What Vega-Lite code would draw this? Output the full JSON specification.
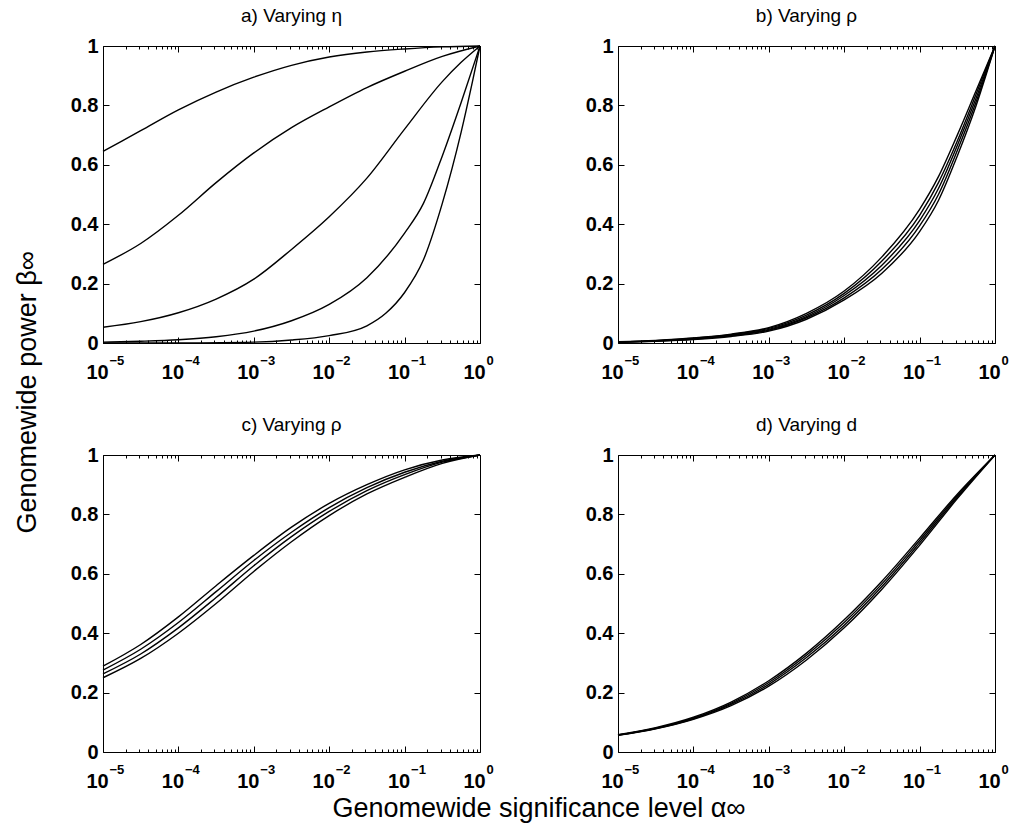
{
"$schema": "https://vega.github.io/schema/vega-lite/v6.json",
"background": "white",
"padding": {"left": 13, "top": 6, "right": 2, "bottom": 2},
"title": {"text": "Genomewide power β∞", "orient": "left", "anchor": "middle", "frame": "bounds", "fontSize": 27, "fontWeight": "normal", "font": "Liberation Sans", "offset": 28, "dx": 22, "color": "black"},
"data": {"values": [
{"p":"a","s":1,"x":1e-5,"y":0.645},{"p":"a","s":1,"x":3.16228e-5,"y":0.715},{"p":"a","s":1,"x":1e-4,"y":0.785},{"p":"a","s":1,"x":3.16228e-4,"y":0.845},{"p":"a","s":1,"x":1e-3,"y":0.895},{"p":"a","s":1,"x":3.16228e-3,"y":0.935},{"p":"a","s":1,"x":0.01,"y":0.963},{"p":"a","s":1,"x":0.0316228,"y":0.98},{"p":"a","s":1,"x":0.1,"y":0.99},{"p":"a","s":1,"x":0.316228,"y":0.997},{"p":"a","s":1,"x":1,"y":1},
{"p":"a","s":2,"x":1e-5,"y":0.265},{"p":"a","s":2,"x":3.16228e-5,"y":0.335},{"p":"a","s":2,"x":1e-4,"y":0.43},{"p":"a","s":2,"x":3.16228e-4,"y":0.54},{"p":"a","s":2,"x":1e-3,"y":0.64},{"p":"a","s":2,"x":3.16228e-3,"y":0.725},{"p":"a","s":2,"x":0.01,"y":0.795},{"p":"a","s":2,"x":0.0316228,"y":0.86},{"p":"a","s":2,"x":0.1,"y":0.915},{"p":"a","s":2,"x":0.316228,"y":0.965},{"p":"a","s":2,"x":1,"y":1},
{"p":"a","s":3,"x":1e-5,"y":0.053},{"p":"a","s":3,"x":3.16228e-5,"y":0.072},{"p":"a","s":3,"x":1e-4,"y":0.102},{"p":"a","s":3,"x":3.16228e-4,"y":0.148},{"p":"a","s":3,"x":1e-3,"y":0.215},{"p":"a","s":3,"x":3.16228e-3,"y":0.315},{"p":"a","s":3,"x":0.01,"y":0.425},{"p":"a","s":3,"x":0.0316228,"y":0.555},{"p":"a","s":3,"x":0.1,"y":0.72},{"p":"a","s":3,"x":0.316228,"y":0.88},{"p":"a","s":3,"x":0.562341,"y":0.945},{"p":"a","s":3,"x":1,"y":1},
{"p":"a","s":4,"x":1e-5,"y":0.003},{"p":"a","s":4,"x":3.16228e-5,"y":0.006},{"p":"a","s":4,"x":1e-4,"y":0.011},{"p":"a","s":4,"x":3.16228e-4,"y":0.021},{"p":"a","s":4,"x":1e-3,"y":0.04},{"p":"a","s":4,"x":3.16228e-3,"y":0.075},{"p":"a","s":4,"x":0.01,"y":0.13},{"p":"a","s":4,"x":0.0316228,"y":0.22},{"p":"a","s":4,"x":0.1,"y":0.37},{"p":"a","s":4,"x":0.177828,"y":0.47},{"p":"a","s":4,"x":0.316228,"y":0.63},{"p":"a","s":4,"x":0.562341,"y":0.81},{"p":"a","s":4,"x":1,"y":1},
{"p":"a","s":5,"x":1e-5,"y":0.0},{"p":"a","s":5,"x":1e-4,"y":0.0005},{"p":"a","s":5,"x":1e-3,"y":0.003},{"p":"a","s":5,"x":3.16228e-3,"y":0.01},{"p":"a","s":5,"x":0.01,"y":0.025},{"p":"a","s":5,"x":0.0316228,"y":0.058},{"p":"a","s":5,"x":0.0562341,"y":0.1},{"p":"a","s":5,"x":0.1,"y":0.17},{"p":"a","s":5,"x":0.177828,"y":0.28},{"p":"a","s":5,"x":0.316228,"y":0.47},{"p":"a","s":5,"x":0.562341,"y":0.71},{"p":"a","s":5,"x":0.794328,"y":0.88},{"p":"a","s":5,"x":1,"y":1},
{"p":"b","s":1,"x":1e-5,"y":0.004},{"p":"b","s":1,"x":3.16228e-5,"y":0.009},{"p":"b","s":1,"x":1e-4,"y":0.017},{"p":"b","s":1,"x":3.16228e-4,"y":0.03},{"p":"b","s":1,"x":1e-3,"y":0.052},{"p":"b","s":1,"x":3.16228e-3,"y":0.1},{"p":"b","s":1,"x":0.01,"y":0.175},{"p":"b","s":1,"x":0.0316228,"y":0.29},{"p":"b","s":1,"x":0.1,"y":0.45},{"p":"b","s":1,"x":0.177828,"y":0.56},{"p":"b","s":1,"x":0.316228,"y":0.7},{"p":"b","s":1,"x":0.562341,"y":0.85},{"p":"b","s":1,"x":1,"y":1},
{"p":"b","s":2,"x":1e-5,"y":0.0035},{"p":"b","s":2,"x":3.16228e-5,"y":0.008},{"p":"b","s":2,"x":1e-4,"y":0.016},{"p":"b","s":2,"x":3.16228e-4,"y":0.028},{"p":"b","s":2,"x":1e-3,"y":0.049},{"p":"b","s":2,"x":3.16228e-3,"y":0.094},{"p":"b","s":2,"x":0.01,"y":0.167},{"p":"b","s":2,"x":0.0316228,"y":0.276},{"p":"b","s":2,"x":0.1,"y":0.43},{"p":"b","s":2,"x":0.177828,"y":0.54},{"p":"b","s":2,"x":0.316228,"y":0.68},{"p":"b","s":2,"x":0.562341,"y":0.838},{"p":"b","s":2,"x":1,"y":1},
{"p":"b","s":3,"x":1e-5,"y":0.003},{"p":"b","s":3,"x":3.16228e-5,"y":0.007},{"p":"b","s":3,"x":1e-4,"y":0.014},{"p":"b","s":3,"x":3.16228e-4,"y":0.026},{"p":"b","s":3,"x":1e-3,"y":0.046},{"p":"b","s":3,"x":3.16228e-3,"y":0.089},{"p":"b","s":3,"x":0.01,"y":0.16},{"p":"b","s":3,"x":0.0316228,"y":0.262},{"p":"b","s":3,"x":0.1,"y":0.412},{"p":"b","s":3,"x":0.177828,"y":0.52},{"p":"b","s":3,"x":0.316228,"y":0.665},{"p":"b","s":3,"x":0.562341,"y":0.825},{"p":"b","s":3,"x":1,"y":1},
{"p":"b","s":4,"x":1e-5,"y":0.0025},{"p":"b","s":4,"x":3.16228e-5,"y":0.0065},{"p":"b","s":4,"x":1e-4,"y":0.013},{"p":"b","s":4,"x":3.16228e-4,"y":0.024},{"p":"b","s":4,"x":1e-3,"y":0.043},{"p":"b","s":4,"x":3.16228e-3,"y":0.085},{"p":"b","s":4,"x":0.01,"y":0.152},{"p":"b","s":4,"x":0.0316228,"y":0.248},{"p":"b","s":4,"x":0.1,"y":0.394},{"p":"b","s":4,"x":0.177828,"y":0.5},{"p":"b","s":4,"x":0.316228,"y":0.648},{"p":"b","s":4,"x":0.562341,"y":0.812},{"p":"b","s":4,"x":1,"y":1},
{"p":"b","s":5,"x":1e-5,"y":0.002},{"p":"b","s":5,"x":3.16228e-5,"y":0.006},{"p":"b","s":5,"x":1e-4,"y":0.012},{"p":"b","s":5,"x":3.16228e-4,"y":0.022},{"p":"b","s":5,"x":1e-3,"y":0.04},{"p":"b","s":5,"x":3.16228e-3,"y":0.08},{"p":"b","s":5,"x":0.01,"y":0.145},{"p":"b","s":5,"x":0.0316228,"y":0.235},{"p":"b","s":5,"x":0.1,"y":0.375},{"p":"b","s":5,"x":0.177828,"y":0.48},{"p":"b","s":5,"x":0.316228,"y":0.63},{"p":"b","s":5,"x":0.562341,"y":0.8},{"p":"b","s":5,"x":1,"y":1},
{"p":"c","s":1,"x":1e-5,"y":0.289},{"p":"c","s":1,"x":3.16228e-5,"y":0.362},{"p":"c","s":1,"x":1e-4,"y":0.455},{"p":"c","s":1,"x":3.16228e-4,"y":0.56},{"p":"c","s":1,"x":1e-3,"y":0.662},{"p":"c","s":1,"x":3.16228e-3,"y":0.757},{"p":"c","s":1,"x":0.01,"y":0.837},{"p":"c","s":1,"x":0.0316228,"y":0.9},{"p":"c","s":1,"x":0.1,"y":0.95},{"p":"c","s":1,"x":0.316228,"y":0.983},{"p":"c","s":1,"x":1,"y":1},
{"p":"c","s":2,"x":1e-5,"y":0.276},{"p":"c","s":2,"x":3.16228e-5,"y":0.346},{"p":"c","s":2,"x":1e-4,"y":0.436},{"p":"c","s":2,"x":3.16228e-4,"y":0.54},{"p":"c","s":2,"x":1e-3,"y":0.645},{"p":"c","s":2,"x":3.16228e-3,"y":0.74},{"p":"c","s":2,"x":0.01,"y":0.823},{"p":"c","s":2,"x":0.0316228,"y":0.89},{"p":"c","s":2,"x":0.1,"y":0.942},{"p":"c","s":2,"x":0.316228,"y":0.979},{"p":"c","s":2,"x":1,"y":1},
{"p":"c","s":3,"x":1e-5,"y":0.263},{"p":"c","s":3,"x":3.16228e-5,"y":0.33},{"p":"c","s":3,"x":1e-4,"y":0.418},{"p":"c","s":3,"x":3.16228e-4,"y":0.52},{"p":"c","s":3,"x":1e-3,"y":0.627},{"p":"c","s":3,"x":3.16228e-3,"y":0.725},{"p":"c","s":3,"x":0.01,"y":0.81},{"p":"c","s":3,"x":0.0316228,"y":0.88},{"p":"c","s":3,"x":0.1,"y":0.934},{"p":"c","s":3,"x":0.316228,"y":0.976},{"p":"c","s":3,"x":1,"y":1},
{"p":"c","s":4,"x":1e-5,"y":0.25},{"p":"c","s":4,"x":3.16228e-5,"y":0.315},{"p":"c","s":4,"x":1e-4,"y":0.4},{"p":"c","s":4,"x":3.16228e-4,"y":0.5},{"p":"c","s":4,"x":1e-3,"y":0.608},{"p":"c","s":4,"x":3.16228e-3,"y":0.708},{"p":"c","s":4,"x":0.01,"y":0.796},{"p":"c","s":4,"x":0.0316228,"y":0.869},{"p":"c","s":4,"x":0.1,"y":0.925},{"p":"c","s":4,"x":0.316228,"y":0.972},{"p":"c","s":4,"x":1,"y":1},
{"p":"d","s":1,"x":1e-5,"y":0.058},{"p":"d","s":1,"x":3.16228e-5,"y":0.082},{"p":"d","s":1,"x":1e-4,"y":0.117},{"p":"d","s":1,"x":3.16228e-4,"y":0.168},{"p":"d","s":1,"x":1e-3,"y":0.24},{"p":"d","s":1,"x":3.16228e-3,"y":0.333},{"p":"d","s":1,"x":0.01,"y":0.445},{"p":"d","s":1,"x":0.0316228,"y":0.575},{"p":"d","s":1,"x":0.1,"y":0.72},{"p":"d","s":1,"x":0.316228,"y":0.868},{"p":"d","s":1,"x":1,"y":1},
{"p":"d","s":2,"x":1e-5,"y":0.057},{"p":"d","s":2,"x":3.16228e-5,"y":0.08},{"p":"d","s":2,"x":1e-4,"y":0.114},{"p":"d","s":2,"x":3.16228e-4,"y":0.164},{"p":"d","s":2,"x":1e-3,"y":0.234},{"p":"d","s":2,"x":3.16228e-3,"y":0.326},{"p":"d","s":2,"x":0.01,"y":0.436},{"p":"d","s":2,"x":0.0316228,"y":0.566},{"p":"d","s":2,"x":0.1,"y":0.712},{"p":"d","s":2,"x":0.316228,"y":0.863},{"p":"d","s":2,"x":1,"y":1},
{"p":"d","s":3,"x":1e-5,"y":0.057},{"p":"d","s":3,"x":3.16228e-5,"y":0.079},{"p":"d","s":3,"x":1e-4,"y":0.112},{"p":"d","s":3,"x":3.16228e-4,"y":0.16},{"p":"d","s":3,"x":1e-3,"y":0.228},{"p":"d","s":3,"x":3.16228e-3,"y":0.318},{"p":"d","s":3,"x":0.01,"y":0.427},{"p":"d","s":3,"x":0.0316228,"y":0.557},{"p":"d","s":3,"x":0.1,"y":0.704},{"p":"d","s":3,"x":0.316228,"y":0.858},{"p":"d","s":3,"x":1,"y":1},
{"p":"d","s":4,"x":1e-5,"y":0.056},{"p":"d","s":4,"x":3.16228e-5,"y":0.078},{"p":"d","s":4,"x":1e-4,"y":0.11},{"p":"d","s":4,"x":3.16228e-4,"y":0.156},{"p":"d","s":4,"x":1e-3,"y":0.222},{"p":"d","s":4,"x":3.16228e-3,"y":0.31},{"p":"d","s":4,"x":0.01,"y":0.418},{"p":"d","s":4,"x":0.0316228,"y":0.548},{"p":"d","s":4,"x":0.1,"y":0.696},{"p":"d","s":4,"x":0.316228,"y":0.853},{"p":"d","s":4,"x":1,"y":1}
]},
"facet": {"field": "p", "type": "nominal", "header": {
  "title": "Genomewide significance level α∞", "titleOrient": "bottom", "labelOrient": "top",
  "labelExpr": "datum.value=='a' ? 'a) Varying η' : datum.value=='b' ? 'b) Varying ρ' : datum.value=='c' ? 'c) Varying ρ' : 'd) Varying d'",
  "labelFontSize": 19, "labelFont": "Liberation Sans", "labelColor": "black", "labelPadding": 10,
  "titleFontSize": 27, "titleFont": "Liberation Sans", "titleFontWeight": "normal", "titleColor": "black", "titlePadding": 44}},
"columns": 2,
"spacing": {"row": 112, "column": 138},
"bounds": "flush",
"resolve": {"axis": {"x": "independent", "y": "independent"}},
"spec": {
  "width": 377, "height": 297,
  "resolve": {"axis": {"x": "independent", "y": "independent"}},
  "layer": [
    {"mark": {"type": "line", "color": "black", "strokeWidth": 1.4, "interpolate": "monotone"},
     "encoding": {
       "x": {"field": "x", "type": "quantitative", "scale": {"type": "log", "domain": [0.00001, 1], "nice": false},
             "axis": {"orient": "bottom",
               "values": [1e-5,2e-5,3e-5,4e-5,5e-5,6e-5,7e-5,8e-5,9e-5,1e-4,2e-4,3e-4,4e-4,5e-4,6e-4,7e-4,8e-4,9e-4,1e-3,2e-3,3e-3,4e-3,5e-3,6e-3,7e-3,8e-3,9e-3,0.01,0.02,0.03,0.04,0.05,0.06,0.07,0.08,0.09,0.1,0.2,0.3,0.4,0.5,0.6,0.7,0.8,0.9,1],
               "labelExpr": "datum.value==1e-5||datum.value==1e-4||datum.value==1e-3||datum.value==0.01||datum.value==0.1||datum.value==1 ? '10' : ''",
               "tickSize": {"condition": {"test": "datum.value==1e-5||datum.value==1e-4||datum.value==1e-3||datum.value==0.01||datum.value==0.1||datum.value==1", "value": -6}, "value": -3},
               "labelAlign": "center", "labelOffset": -6, "labelPadding": 25}},
       "y": {"field": "y", "type": "quantitative", "scale": {"domain": [0, 1], "nice": false},
             "axis": {"orient": "left", "values": [0, 0.2, 0.4, 0.6, 0.8, 1], "format": "~g", "tickSize": -6, "labelPadding": 11}},
       "detail": {"field": "s", "type": "nominal"}
     }},
    {"mark": {"type": "line", "opacity": 0},
     "encoding": {
       "x": {"field": "x", "type": "quantitative", "scale": {"type": "log", "domain": [0.00001, 1], "nice": false},
             "axis": {"orient": "top", "labels": false,
               "values": [1e-5,2e-5,3e-5,4e-5,5e-5,6e-5,7e-5,8e-5,9e-5,1e-4,2e-4,3e-4,4e-4,5e-4,6e-4,7e-4,8e-4,9e-4,1e-3,2e-3,3e-3,4e-3,5e-3,6e-3,7e-3,8e-3,9e-3,0.01,0.02,0.03,0.04,0.05,0.06,0.07,0.08,0.09,0.1,0.2,0.3,0.4,0.5,0.6,0.7,0.8,0.9,1],
               "tickSize": {"condition": {"test": "datum.value==1e-5||datum.value==1e-4||datum.value==1e-3||datum.value==0.01||datum.value==0.1||datum.value==1", "value": -6}, "value": -3}}},
       "y": {"field": "y", "type": "quantitative", "scale": {"domain": [0, 1], "nice": false},
             "axis": {"orient": "right", "labels": false, "values": [0, 0.2, 0.4, 0.6, 0.8, 1], "tickSize": -6}},
       "detail": {"field": "s", "type": "nominal"}
     }},
    {"mark": {"type": "line", "opacity": 0},
     "encoding": {
       "x": {"field": "x", "type": "quantitative", "scale": {"type": "log", "domain": [0.00001, 1], "nice": false},
             "axis": {"orient": "bottom", "offset": 0, "ticks": false,
               "values": [1e-5, 1e-4, 1e-3, 0.01, 0.1, 1],
               "labelExpr": "datum.value==1e-5 ? '−5' : datum.value==1e-4 ? '−4' : datum.value==1e-3 ? '−3' : datum.value==0.01 ? '−2' : datum.value==0.1 ? '−1' : '0'",
               "labelFontSize": 13, "labelAlign": "left", "labelOffset": 6, "labelPadding": 11}},
       "y": {"field": "y", "type": "quantitative", "scale": {"domain": [0, 1], "nice": false}, "axis": null},
       "detail": {"field": "s", "type": "nominal"}
     }}
  ]
},
"config": {
  "font": "Liberation Sans",
  "view": {"stroke": "black", "strokeWidth": 1},
  "axis": {"grid": false, "domain": false, "tickColor": "black", "tickWidth": 1, "labelColor": "black", "labelFont": "Liberation Sans", "labelFontSize": 20, "labelFontWeight": "bold", "labelFlush": false, "labelOverlap": false, "title": null}
}
}
